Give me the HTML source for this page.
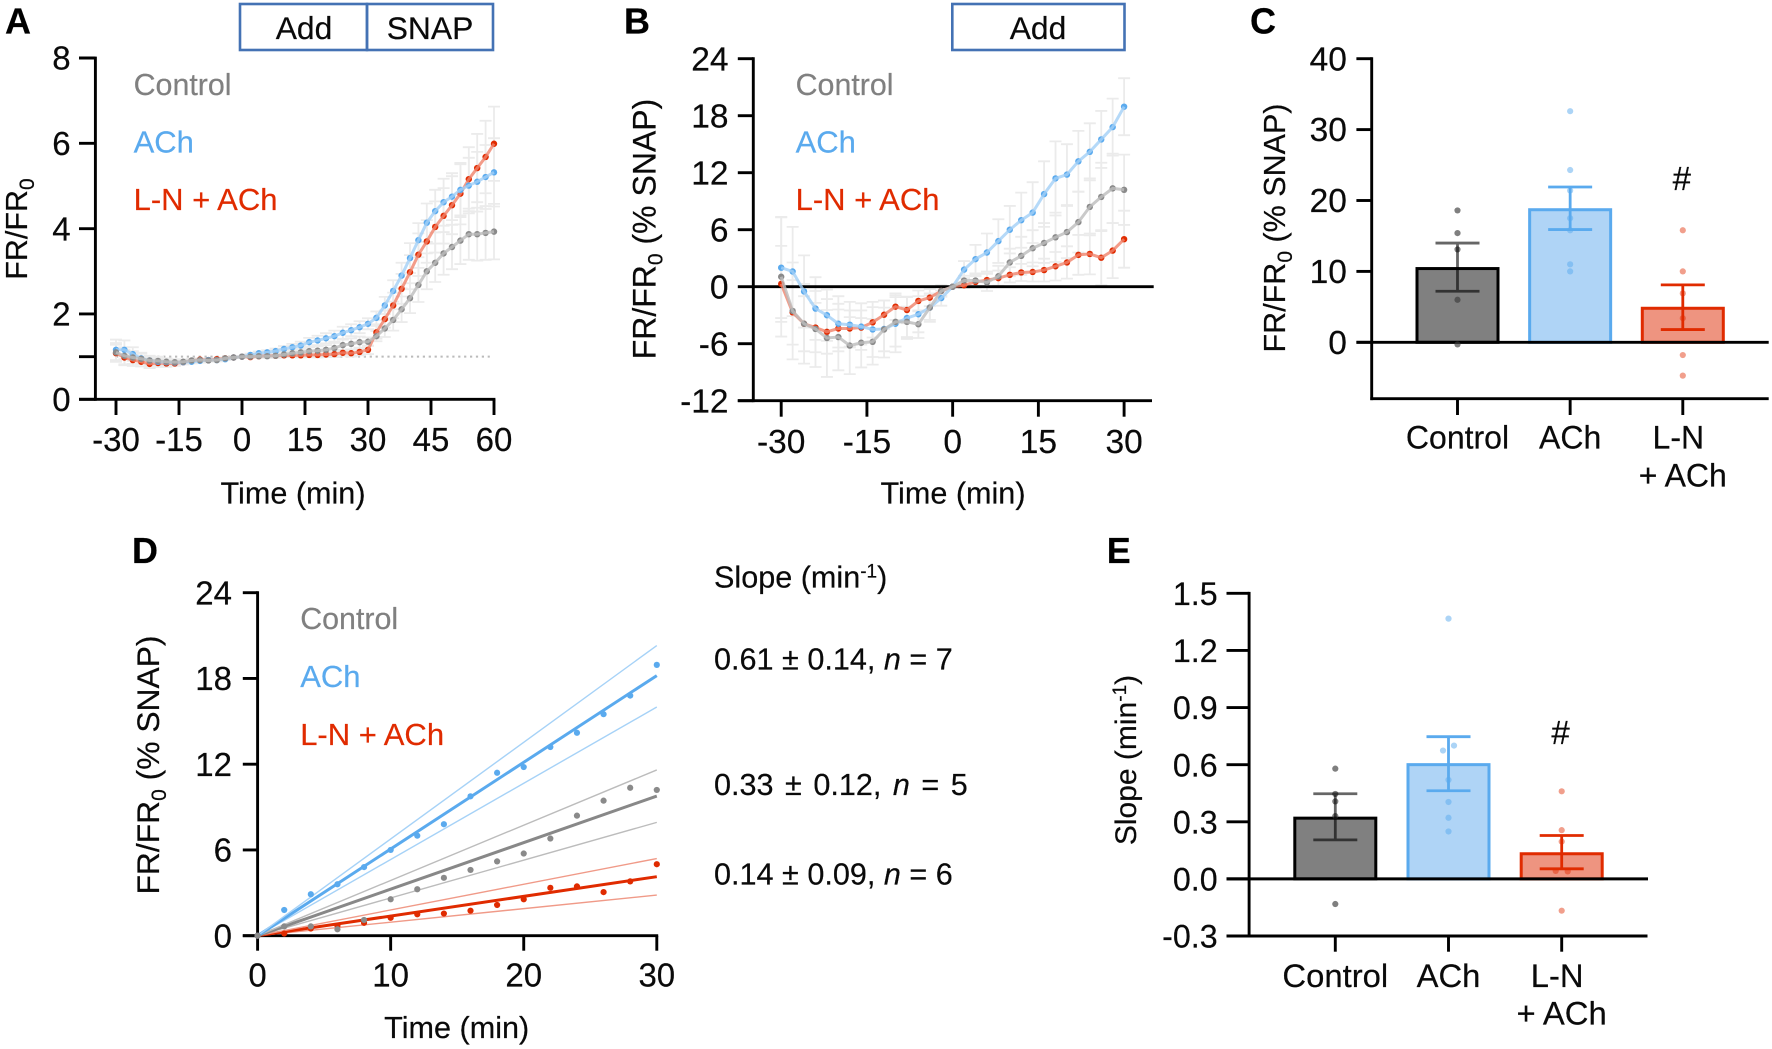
<!DOCTYPE html>
<html lang="en">
<head>
<meta charset="utf-8">
<title>Time course and slope of FR/FR0</title>
<style>
html,body{margin:0;padding:0;background:#fff;}
svg{display:block;}
text{font-family:"Liberation Sans",sans-serif;font-size:30.6px;fill:#0a0a0a;stroke:#0a0a0a;stroke-width:.2px;}
.plabel{font-size:36px;font-weight:bold;fill:#000;}
.ctl{fill:#808080;stroke:#808080;font-size:30.4px;}
.ach{fill:#5aaaee;stroke:#5aaaee;font-size:31px;}
.lna{fill:#e02b00;stroke:#e02b00;font-size:31px;}
.box{fill:none;stroke:#4472b4;stroke-width:2.6;}
.boxt{font-size:31.8px;}
</style>
</head>
<body>
<svg id="figure" xmlns="http://www.w3.org/2000/svg" width="1772" height="1049" viewBox="0 0 1772 1049">
<rect width="1772" height="1049" fill="#fff"/>
<g id="panel-a">
<text class="plabel" x="5" y="33.5">A</text>
<rect class="box" x="240" y="4" width="127" height="46"/>
<rect class="box" x="367" y="4" width="126" height="46"/>
<text class="boxt" x="304" y="38.8" text-anchor="middle">Add</text>
<text class="boxt" x="430" y="38.8" text-anchor="middle">SNAP</text>
<text transform="translate(26.9,229) rotate(-90)" text-anchor="middle" style="font-size:30.5px">FR/FR<tspan dy="7" style="font-size:21px">0</tspan></text>
<text x="293" y="503.3" text-anchor="middle">Time (min)</text>
<text class="ctl" x="133.6" y="95">Control</text>
<text class="ach" x="133.6" y="152.3">ACh</text>
<text class="lna" x="133.6" y="210">L-N + ACh</text>
</g>
<g id="panel-b">
<text class="plabel" x="624" y="33.5">B</text>
<rect class="box" x="952.3" y="4" width="172.2" height="46"/>
<text class="boxt" x="1038" y="38.8" text-anchor="middle">Add</text>
<text transform="translate(655.5,229) rotate(-90)" text-anchor="middle" style="font-size:32px">FR/FR<tspan dy="7" style="font-size:21px">0</tspan><tspan dy="-7"> (% SNAP)</tspan></text>
<text x="953" y="503.3" text-anchor="middle">Time (min)</text>
<text class="ctl" x="795.6" y="95">Control</text>
<text class="ach" x="795.6" y="152.3">ACh</text>
<text class="lna" x="795.6" y="210">L-N + ACh</text>
</g>
<g id="panel-c">
<text class="plabel" x="1250" y="33.5">C</text>
<text transform="translate(1284.8,228) rotate(-90)" text-anchor="middle" style="font-size:30.5px">FR/FR<tspan dy="7" style="font-size:21px">0</tspan><tspan dy="-7"> (% SNAP)</tspan></text>
<text x="1682.8" y="486.7" text-anchor="middle" style="font-size:32px">+ ACh</text>
<text x="1681.8" y="190" text-anchor="middle" style="font-size:33px">#</text>
</g>
<g id="panel-d">
<text class="plabel" x="132" y="563">D</text>
<text transform="translate(158.8,765) rotate(-90)" text-anchor="middle" style="font-size:31.8px">FR/FR<tspan dy="7" style="font-size:21px">0</tspan><tspan dy="-7"> (% SNAP)</tspan></text>
<text x="456.7" y="1038" text-anchor="middle">Time (min)</text>
<text class="ctl" x="300.2" y="629">Control</text>
<text class="ach" x="300.2" y="687">ACh</text>
<text class="lna" x="300.2" y="745">L-N + ACh</text>
<text x="714" y="587.7">Slope (min<tspan dy="-10" style="font-size:19px">-1</tspan><tspan dy="10">)</tspan></text>
<text x="714" y="669.3">0.61 ± 0.14, <tspan font-style="italic">n</tspan> = 7</text>
<text x="714" y="795" style="word-spacing:3px">0.33 ± 0.12, <tspan font-style="italic">n</tspan> = 5</text>
<text x="714" y="884.3">0.14 ± 0.09, <tspan font-style="italic">n</tspan> = 6</text>
</g>
<g id="panel-e">
<text class="plabel" x="1106.7" y="563">E</text>
<text transform="translate(1135.9,760) rotate(-90)" text-anchor="middle" style="font-size:30px">Slope (min<tspan dy="-10" style="font-size:19px">-1</tspan><tspan dy="10">)</tspan></text>
<text x="1561.6" y="1024.3" text-anchor="middle" style="font-size:32.8px">+ ACh</text>
<text x="1560.6" y="744" text-anchor="middle" style="font-size:33px">#</text>
</g>
</svg>
<script>
// ---------- Panel A data ----------
const aTime = [-30,-28,-26,-24,-22,-20,-18,-16,-14,-12,-10,-8,-6,-4,-2,0,2,4,6,8,10,12,14,16,18,20,22,24,26,28,30,32,34,36,38,40,42,44,46,48,50,52,54,56,58,60];
const aControl = [1.1,1.02,.98,.95,.91,.9,.88,.87,.88,.91,.92,.91,.92,.96,.98,1,1,1.01,1.01,1.02,1.05,1.08,1.1,1.13,1.14,1.16,1.2,1.27,1.3,1.34,1.35,1.48,1.66,1.86,2.11,2.37,2.68,3,3.2,3.42,3.57,3.72,3.87,3.87,3.9,3.93];
const aAch = [1.16,1.16,1.06,.96,.91,.88,.87,.86,.87,.88,.9,.92,.92,.94,.98,1,1.04,1.08,1.1,1.13,1.18,1.22,1.26,1.34,1.38,1.43,1.48,1.56,1.62,1.69,1.77,1.91,2.2,2.54,2.9,3.31,3.73,4.14,4.41,4.62,4.75,4.91,5.01,5.1,5.21,5.32];
const aLn = [1.08,.98,.92,.88,.83,.85,.84,.84,.87,.9,.93,.92,.94,.96,.98,1,.99,1.01,1.02,1.02,1.03,1.03,1.03,1.04,1.04,1.05,1.06,1.09,1.08,1.11,1.16,1.57,1.88,2.2,2.59,2.98,3.39,3.7,4.04,4.3,4.55,4.82,5.16,5.42,5.68,5.99];
const aSemControl = [.22,.2,.15,.12,.1,.1,.08,.07,.05,.04,.04,.03,.03,.02,.01,0,.02,.03,.04,.05,.06,.07,.08,.09,.1,.11,.12,.13,.13,.13,.1,.12,.2,.25,.3,.35,.4,.42,.45,.5,.52,.55,.6,.62,.63,.65];
const aSemAch = [.24,.22,.16,.13,.11,.1,.09,.07,.05,.04,.04,.03,.03,.02,.01,0,.03,.04,.05,.06,.07,.08,.09,.1,.11,.12,.13,.14,.14,.14,.13,.15,.2,.25,.3,.35,.4,.45,.5,.55,.55,.6,.65,.7,.75,.8];
const aSemLn = [.2,.18,.14,.11,.1,.09,.08,.06,.05,.04,.03,.03,.02,.02,.01,0,.01,.02,.03,.03,.04,.04,.05,.05,.06,.06,.07,.07,.08,.08,.1,.15,.2,.3,.35,.4,.5,.5,.6,.65,.68,.72,.75,.8,.85,.87];
const aYTicks = [0,1,2,4,6,8];
const aYTickLabels = ['0','','2','4','6','8'];
const aXTicks = [-30,-15,0,15,30,45,60];
const aXTickLabels = ['-30','-15','0','15','30','45','60'];

// ---------- Panel B data ----------
const bTime = [-30,-28,-26,-24,-22,-20,-18,-16,-14,-12,-10,-8,-6,-4,-2,0,2,4,6,8,10,12,14,16,18,20,22,24,26,28,30];
const bControl = [1.05,-2.55,-3.9,-4.45,-5.4,-5.3,-6.2,-5.9,-5.8,-4.5,-3.7,-3.7,-3.95,-2.2,-.45,0,.65,.65,.45,1.1,2.55,3.25,4.05,4.6,5.2,5.75,6.8,8.4,9.45,10.35,10.2];
const bAch = [2,1.6,-.5,-2.3,-3,-3.9,-4,-4.2,-4.5,-4.45,-3.9,-3.3,-2.9,-2.2,-1.2,0,1.8,2.9,3.6,4.8,6,7,7.8,9.75,11.4,11.8,13.2,14.2,15.5,16.8,18.95];
const bLn = [.3,-2.7,-3.9,-4.3,-4.75,-4.4,-4.4,-4.3,-3.75,-2.95,-2.1,-2.45,-1.5,-1.15,-.45,0,.15,.5,.7,.9,1.25,1.5,1.55,1.75,2.15,2.55,3.35,3.45,3.05,3.8,5];
const bSemControl = [6.3,5.1,4.2,4,4.1,3.5,3,2.6,2.4,2.3,2.6,1.6,1.45,1.3,.6,0,.5,.6,.9,1.1,1.45,2,1.9,2.1,2.6,2.75,3.2,3,3.6,3.65,3.7];
const bSemAch = [5.3,4.7,3.8,3.3,2.7,2.9,2.4,2.45,2.9,3,3,2.2,1.9,1.5,.8,0,.9,1.5,2,2.3,2.5,2.9,3.2,3.45,3.9,3.2,3.2,3,3,3,3];
const bSemLn = [4,3.4,2.9,2.6,2.3,2,1.9,1.8,1.6,1.5,1.4,1.4,1.1,.9,.5,0,.3,.6,.7,.8,.8,.9,1,1.2,1.5,1.7,2.1,2.15,2.9,2.9,3];
const bYTicks = [-12,-6,0,6,12,18,24];
const bYTickLabels = ['-12','-6','0','6','12','18','24'];
const bXTicks = [-30,-15,0,15,30];
const bXTickLabels = ['-30','-15','0','15','30'];

// ---------- Panel C data ----------
const cCategories = ['Control','ACh','L-N'];
const cMeans = [10.4,18.7,4.8];
const cErrHigh = [14,21.9,8.1];
const cErrLow = [7.2,15.9,1.8];
const cDotsControl = [18.6,15.4,13.1,6,-.3];
const cDotsAch = [32.6,24.3,21.4,17.5,15.8,11,10];
const cDotsLn = [15.8,10,6.9,3.4,-1.8,-4.7];
const cYTicks = [0,10,20,30,40];
const cYTickLabels = ['0','10','20','30','40'];

// ---------- Panel D data ----------
const dTime = [0,2,4,6,8,10,12,14,16,18,20,22,24,26,28,30];
const dControl = [0,.65,.65,.45,1.1,2.55,3.25,4.05,4.6,5.2,5.75,6.8,8.4,9.45,10.35,10.2];
const dAch = [0,1.8,2.9,3.6,4.8,6,7,7.8,9.75,11.4,11.8,13.2,14.2,15.5,16.8,18.95];
const dLn = [0,.15,.5,.7,.9,1.25,1.5,1.55,1.75,2.15,2.55,3.35,3.45,3.05,3.8,5];
const dFitEnd = [30];
const dFitControl = [7.93,9.77,11.6];
const dFitAch = [16,18.2,20.3];
const dFitLn = [2.84,4.13,5.4];
const dYTicks = [0,6,12,18,24];
const dYTickLabels = ['0','6','12','18','24'];
const dXTicks = [0,10,20,30];
const dXTickLabels = ['0','10','20','30'];

// ---------- Panel E data ----------
const eCategories = ['Control','ACh','L-N'];
const eMeans = [.319,.6,.132];
const eErrHigh = [.447,.747,.228];
const eErrLow = [.205,.463,.053];
const eDotsControl = [.579,.446,.407,.33,-.132];
const eDotsAch = [1.367,.7,.674,.52,.404,.321,.249];
const eDotsLn = [.46,.256,.196,.042,.039,-.167];
const eDotsAchOffset = [0,5.5,-5.5,0,0,0,0];
const eDotsLnOffset = [0,0,0,-6,6,0];
const eYTicks = [-.3,0,.3,.6,.9,1.2,1.5];
const eYTickLabels = ['-0.3','0.0','0.3','0.6','0.9','1.2','1.5'];

// ---------- Shared drawing ----------
const SVGNS = 'http://www.w3.org/2000/svg';
const COL = {
  control: {dot:'#8a8a8a', line:'#bdbdbd', main:'#888888', thin:'#bcbcbc'},
  ach: {dot:'#5aaaee', line:'#a3d0f6', main:'#5aaaee', thin:'#a6d2f7'},
  ln: {dot:'#e02b00', line:'#f0836c', main:'#e02b00', thin:'#f09a88'}
};
function lin(d0,d1,r0,r1){ return v => r0+(v-d0)*(r1-r0)/(d1-d0); }
function make(parent,tag,attrs){
  const e = document.createElementNS(SVGNS,tag);
  for(const k in attrs){ e.setAttribute(k,attrs[k]); }
  parent.appendChild(e);
  return e;
}
function blackLine(g,x1,y1,x2,y2,name){
  const l = make(g,'line',{x1:x1,y1:y1,x2:x2,y2:y2,stroke:'#000','stroke-width':2.9});
  
  
  return l;
}
function axes(g,o){
  const axisGroup = make(g,'g',{});
  
  
  blackLine(axisGroup,o.axisX,o.yTop-1.4,o.axisX,o.yBottom+1.4,'y-axis-line');
  blackLine(axisGroup,o.xLeft,o.yBottom,o.xRight,o.yBottom,'x-axis-line');
  o.yVals.forEach((v,i)=>{
    blackLine(axisGroup,o.tickLeft,o.yFn(v),o.axisX,o.yFn(v),'y-tick');
    if(o.yLabels[i]!==''){
      const t = make(axisGroup,'text',{x:o.yLabelX,y:o.yFn(v)+11.6,'text-anchor':'end'});
      t.textContent = o.yLabels[i];
      
      
      t.style.fontSize = o.yFont+'px';
    }
  });
  o.xVals.forEach((v,i)=>{
    blackLine(axisGroup,o.xFn(v),o.yBottom,o.xFn(v),o.tickBottom,'x-tick');
    const dx = o.xLabels[i]==='L-N' ? -4.5 : 0;
    const t = make(axisGroup,'text',{x:o.xFn(v)+dx,y:o.xBaseline,'text-anchor':'middle'});
    t.textContent = o.xLabels[i];
    
    
    t.style.fontSize = o.xFont+'px';
  });
}
function errorBars(g,xs,ys,sems,xFn,yFn){
  xs.forEach((x,i)=>{
    if(sems[i]<=0) return;
    const px = xFn(x), hi = yFn(ys[i]+sems[i]), lo = yFn(ys[i]-sems[i]);
    const p = make(g,'path',{d:'M'+(px-6)+' '+hi+'H'+(px+6)+'M'+px+' '+hi+'V'+lo+'M'+(px-6)+' '+lo+'H'+(px+6),fill:'none',stroke:'#ebebeb','stroke-width':1.8});
    
    
  });
}
function series(g,name,xs,ys,xFn,yFn,c){
  const s = make(g,'g',{});
  
  
  xs.forEach((x,i)=>{
    const d = make(s,'circle',{cx:xFn(x),cy:yFn(ys[i]),r:3.2,fill:c.dot});
    
    
  });
  const pts = xs.map((x,i)=>xFn(x)+','+yFn(ys[i])).join(' ');
  const l = make(s,'polyline',{points:pts,fill:'none',stroke:c.line,'stroke-width':3,'stroke-opacity':.8});
  
  
}
function scatter(g,name,xs,ys,xFn,yFn,fill,opacity){
  xs.forEach((x,i)=>{
    const d = make(g,'circle',{cx:xFn(x),cy:yFn(ys[i]),r:3.1,fill:fill,'fill-opacity':opacity});
    
    
  });
}
function barPanel(g,o){
  const styles = [
    {fill:'#808080',stroke:'#000',err:'#000',errOp:.6,dot:'#3a3a3a',dotOp:.65},
    {fill:'#afd4f6',stroke:'#5aaaee',err:'#5aaaee',errOp:1,dot:'#5aaaee',dotOp:.5},
    {fill:'#ee9480',stroke:'#e02b00',err:'#e02b00',errOp:1,dot:'#e02b00',dotOp:.45}
  ];
  o.means.forEach((m,i)=>{
    const st = styles[i], cx = o.xFn(i);
    const top = o.yFn(m), base = o.yFn(0);
    const r = make(g,'rect',{x:cx-40.5,y:top,width:81,height:base-top,fill:st.fill,stroke:st.stroke,'stroke-width':3});
    
    
  });
  blackLine(g,o.tickLeft,o.yFn(0),o.xRight,o.yFn(0),'zero-line');
  o.means.forEach((m,i)=>{
    const st = styles[i], cx = o.xFn(i);
    const offs = o.dotOffsets[i];
    o.dots[i].forEach((v,j)=>{
      const c = make(g,'circle',{cx:cx+(offs?offs[j]:0),cy:o.yFn(v),r:3.1,fill:st.dot,'fill-opacity':st.dotOp});
      
      
    });
    const hi = o.yFn(o.errHigh[i]), lo = o.yFn(o.errLow[i]);
    const e = make(g,'path',{d:'M'+(cx-22)+' '+hi+'H'+(cx+22)+'M'+cx+' '+hi+'V'+lo+'M'+(cx-22)+' '+lo+'H'+(cx+22),fill:'none',stroke:st.err,'stroke-opacity':st.errOp,'stroke-width':2.8});
    
    
  });
}

// ---------- Panel A ----------
(function(){
  const g = document.getElementById('panel-a');
  const x = lin(-30,60,116,494), y = lin(0,8,399.3,58);
  const dotted = make(g,'line',{x1:x(-30),y1:y(1),x2:x(59),y2:y(1),stroke:'#bbb','stroke-width':2,'stroke-dasharray':'2.2 3.7'});
  
  
  errorBars(g,aTime,aControl,aSemControl,x,y);
  errorBars(g,aTime,aAch,aSemAch,x,y);
  errorBars(g,aTime,aLn,aSemLn,x,y);
  axes(g,{axisX:95.4,yTop:y(8),yBottom:y(0),xLeft:79,xRight:495.4,tickLeft:79,yVals:aYTicks,yLabels:aYTickLabels,yFn:y,yLabelX:70.6,yFont:33,xVals:aXTicks,xLabels:aXTickLabels,xFn:x,xBaseline:451.2,tickBottom:415,xFont:33});
  series(g,'series-l-n-ach',aTime,aLn,x,y,COL.ln);
  series(g,'series-ach',aTime,aAch,x,y,COL.ach);
  series(g,'series-control',aTime,aControl,x,y,COL.control);
})();

// ---------- Panel B ----------
(function(){
  const g = document.getElementById('panel-b');
  const x = lin(-30,30,781.2,1124.1), y = lin(-12,24,400.7,58.7);
  errorBars(g,bTime,bControl,bSemControl,x,y);
  errorBars(g,bTime,bAch,bSemAch,x,y);
  errorBars(g,bTime,bLn,bSemLn,x,y);
  axes(g,{axisX:753.3,yTop:y(24),yBottom:y(-12),xLeft:737.8,xRight:1152,tickLeft:737.8,yVals:bYTicks,yLabels:bYTickLabels,yFn:y,yLabelX:728.5,yFont:33.5,xVals:bXTicks,xLabels:bXTickLabels,xFn:x,xBaseline:453.2,tickBottom:416.7,xFont:33.5});
  blackLine(g,753.3,y(0),1153.7,y(0),'zero-line');
  series(g,'series-l-n-ach',bTime,bLn,x,y,COL.ln);
  series(g,'series-ach',bTime,bAch,x,y,COL.ach);
  series(g,'series-control',bTime,bControl,x,y,COL.control);
})();

// ---------- Panel C ----------
(function(){
  const g = document.getElementById('panel-c');
  const y = lin(0,40,342.3,58.7), x = lin(0,1,1457.5,1570.15);
  axes(g,{axisX:1371.7,yTop:y(40),yBottom:398.7,xLeft:1370.3,xRight:1768.7,tickLeft:1356.4,yVals:cYTicks,yLabels:cYTickLabels,yFn:y,yLabelX:1346.9,yFont:33.5,xVals:[0,1,2],xLabels:cCategories,xFn:x,xBaseline:448.6,tickBottom:415,xFont:32});
  barPanel(g,{xFn:x,yFn:y,means:cMeans,errHigh:cErrHigh,errLow:cErrLow,dots:[cDotsControl,cDotsAch,cDotsLn],dotOffsets:[null,null,null],names:['control','ach','l-n-ach'],tickLeft:1356.4,xRight:1768.7});
})();

// ---------- Panel D ----------
(function(){
  const g = document.getElementById('panel-d');
  const x = lin(0,30,257.6,656.8), y = lin(0,24,935.7,592.7);
  axes(g,{axisX:257.6,yTop:y(24),yBottom:y(0),xLeft:242.8,xRight:658.2,tickLeft:242.8,yVals:dYTicks,yLabels:dYTickLabels,yFn:y,yLabelX:232,yFont:33,xVals:dXTicks,xLabels:dXTickLabels,xFn:x,xBaseline:986.5,tickBottom:950.7,xFont:33});
  [[dFitLn,COL.ln,'fit-l-n-ach'],[dFitControl,COL.control,'fit-control'],[dFitAch,COL.ach,'fit-ach']].forEach(f=>{
    f[0].forEach((v,i)=>{
      const main = i===1;
      const l = make(g,'line',{x1:x(0),y1:y(0),x2:x(dFitEnd[0]),y2:y(v),stroke:main?f[1].main:f[1].thin,'stroke-width':main?3:1.4});
      
      
    });
  });
  scatter(g,'data-point-l-n-ach',dTime,dLn,x,y,COL.ln.dot,1);
  scatter(g,'data-point-ach',dTime,dAch,x,y,COL.ach.dot,1);
  scatter(g,'data-point-control',dTime,dControl,x,y,COL.control.dot,1);
})();

// ---------- Panel E ----------
(function(){
  const g = document.getElementById('panel-e');
  const y = lin(-.3,1.5,936,593.3), x = lin(0,1,1335.3,1448.5);
  axes(g,{axisX:1249.1,yTop:y(1.5),yBottom:y(-.3),xLeft:1226.5,xRight:1647.5,tickLeft:1226.5,yVals:eYTicks,yLabels:eYTickLabels,yFn:y,yLabelX:1217.6,yFont:32.2,xVals:[0,1,2],xLabels:eCategories,xFn:x,xBaseline:987,tickBottom:951.7,xFont:32.8});
  barPanel(g,{xFn:x,yFn:y,means:eMeans,errHigh:eErrHigh,errLow:eErrLow,dots:[eDotsControl,eDotsAch,eDotsLn],dotOffsets:[null,eDotsAchOffset,eDotsLnOffset],names:['control','ach','l-n-ach'],tickLeft:1226.5,xRight:1648});
})();
</script>
</body>
</html>
